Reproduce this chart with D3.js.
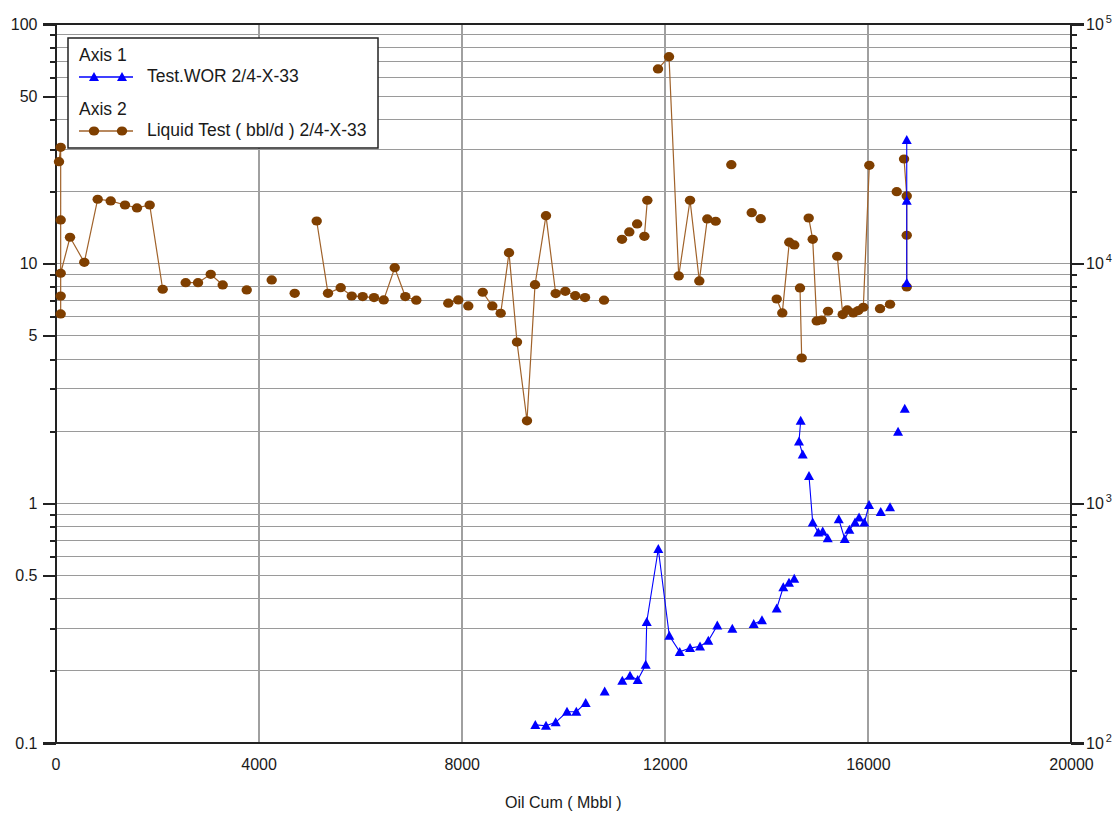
<!DOCTYPE html>
<html lang="en">
<head>
    <meta charset="UTF-8">
    <title>Test.WOR and Liquid Test vs Oil Cum</title>
    <style>
        body {
            margin: 0;
            background-color: #fff;
        }

        svg text {
            font-family: 'Liberation Sans', Arial, sans-serif;
            fill: #1a1a1a;
        }

        .grid line {
            stroke: #9a9a9a;
            stroke-width: 1px;
            shape-rendering: crispEdges;
        }

        .grid .vgrid {
            stroke: #a0a0a0;
            stroke-width: 2px;
        }

        .frame line {
            stroke: #222;
            stroke-width: 2px;
            shape-rendering: crispEdges;
        }

        .axis .tick line {
            stroke: #222;
            stroke-width: 2px;
            shape-rendering: crispEdges;
        }

        .axis text {
            font-size: 16px;
        }
    </style>
</head>
<body>
    <div id="chart"></div>

    <script src="https://d3js.org/d3.v7.min.js"></script>
    <script>
        // Axis 1: Test.WOR 2/4-X-33 (null = gap in the line)
        const worCum = [
            9450, 9660, 9851, 10074, 10257, 10442, null,
            10816, null,
            11163, 11315, 11466, 11624, 11644, 11872, 12089, 12294, 12497, 12694, 12857, 13034, null,
            13330, null,
            13751, 13914, null,
            14204, 14334, 14446, 14549, null,
            14676, 14643, 14716, null,
            14840, 14913, 15023, 15110, 15209, null,
            15426, 15544, 15635, 15747, 15826, 15930, 16023, null,
            16253, null,
            16436, null,
            16594, null,
            16726, null,
            16765, 16765, 16765
        ];
        const worValues = [
            0.119, 0.118, 0.122, 0.135, 0.135, 0.147, null,
            0.164, null,
            0.182, 0.191, 0.183, 0.212, 0.32, 0.645, 0.28, 0.24, 0.249, 0.253, 0.267, 0.309, null,
            0.30, null,
            0.314, 0.325, null,
            0.364, 0.447, 0.466, 0.484, null,
            2.21, 1.81, 1.6, null,
            1.3, 0.831, 0.755, 0.762, 0.715, null,
            0.859, 0.71, 0.775, 0.831, 0.872, 0.831, 0.985, null,
            0.921, null,
            0.963, null,
            1.99, null,
            2.48, null,
            8.31, 18.3, 32.8
        ];

        // Axis 2: Liquid Test ( bbl/d ) 2/4-X-33
        const liquidCum = [
            69, 102, 102, 102, 102, 102, 286, 567, 831, 1087, 1369, 1605, 1855, 2111, null,
            2564, 2807, 3057, 3293, null,
            3766, null,
            4258, null,
            4711, null,
            5144, 5367, 5617, 5834, 6050, 6273, 6464, 6681, 6889, 7106, null,
            7736, 7933, null,
            8130, null,
            8414, 8603, 8768, 8932, 9089, 9286, 9444, 9660, 9851, 10040, 10237, 10429, null,
            10803, null,
            11157, null,
            11301, null,
            11455, null,
            11598, 11656, null,
            11866, 12083, 12274, 12497, 12680, 12837, 13002, null,
            13310, null,
            13712, null,
            13889, null,
            14204, 14314, 14452, 14550, null,
            14663, 14696, null,
            14834, 14913, 14992, 15090, 15214, null,
            15397, 15504, 15594, 15713, 15811, 15910, 16028, null,
            16239, 16436, null,
            16568, null,
            16712, 16765, 16765, 16765
        ];
        const liquidValues = [
            26640, 30590, 15220, 6170, 7330, 9120, 12890, 10130, 18570, 18270, 17570, 17080, 17570, 7820, null,
            8330, 8330, 9030, 8150, null,
            7770, null,
            8550, null,
            7520, null,
            15070, 7520, 7940, 7330, 7290, 7220, 7060, 9620, 7290, 7040, null,
            6840, 7060, null,
            6660, null,
            7600, 6660, 6210, 11110, 4710, 2210, 8170, 15860, 7500, 7670, 7350, 7220, null,
            7040, null,
            12640, null,
            13560, null,
            14650, null,
            13010, 18390, null,
            64920, 73030, 8890, 18390, 8470, 15370, 15030, null,
            25880, null,
            16320, null,
            15400, null,
            7120, 6230, 12290, 11970, null,
            7920, 4040, null,
            15510, 12640, 5770, 5820, 6330, null,
            10740, 6130, 6410, 6230, 6370, 6580, 25730, null,
            6490, 6770, null,
            19970, null,
            27340, 19170, 13140, 7990
        ];

        const xTicks = [0, 4000, 8000, 12000, 16000, 20000];
        const leftLabels = [0.1, 0.5, 1, 5, 10, 50, 100];
        const rightLabels = [100, 1000, 10000, 100000];
        const legendItems = [
            { axis: "Axis 1", name: "Test.WOR 2/4-X-33", kind: "wor" },
            { axis: "Axis 2", name: "Liquid Test ( bbl/d ) 2/4-X-33", kind: "liquid" }
        ];

        const width = 1119;
        const height = 816;
        const plot = { left: 55.5, right: 1071, top: 24, bottom: 743 };

        const brown = "#7f3f00";
        const brownLine = "#a0622a";
        const blue = "#0000ff";

        const x = d3.scaleLinear().domain([0, 20000]).range([plot.left, plot.right]);
        const yL = d3.scaleLog().domain([0.1, 100]).range([plot.bottom, plot.top]);
        const yR = d3.scaleLog().domain([100, 100000]).range([plot.bottom, plot.top]);

        const svg = d3.select("#chart").append("svg")
            .attr("width", width)
            .attr("height", height);

        const isIn = (list, d) => list.some(v => Math.abs(v - d) < v * 1e-6);

        // grid
        const grid = svg.append("g").attr("class", "grid");
        grid.selectAll(".hgrid")
            .data(yL.ticks().filter(d => d > 0.1 + 1e-9 && d < 100 - 1e-9))
            .enter().append("line")
            .attr("class", "hgrid")
            .attr("x1", plot.left).attr("x2", plot.right)
            .attr("y1", d => yL(d)).attr("y2", d => yL(d));
        grid.selectAll(".vgrid")
            .data(xTicks.slice(1, -1))
            .enter().append("line")
            .attr("class", "vgrid")
            .attr("x1", d => x(d)).attr("x2", d => x(d))
            .attr("y1", plot.top).attr("y2", plot.bottom);

        // left axis
        const leftAxis = svg.append("g")
            .attr("class", "axis")
            .attr("transform", `translate(${plot.left},0)`)
            .call(d3.axisLeft(yL)
                .tickValues(yL.ticks())
                .tickSize(13)
                .tickSizeOuter(0)
                .tickPadding(5)
                .tickFormat(d => isIn(leftLabels, d) ? d3.format("~g")(d) : ""));
        leftAxis.select(".domain").remove();
        leftAxis.selectAll(".tick line")
            .attr("x2", d => isIn(leftLabels, d) ? -13 : -6);

        // right axis
        const rightAxis = svg.append("g")
            .attr("class", "axis")
            .attr("transform", `translate(${plot.right},0)`)
            .call(d3.axisRight(yR)
                .tickValues(yR.ticks())
                .tickSize(13)
                .tickSizeOuter(0)
                .tickPadding(3)
                .tickFormat(""));
        rightAxis.select(".domain").remove();
        rightAxis.selectAll(".tick line")
            .attr("x2", d => isIn(rightLabels, d) ? 13 : 6);
        rightAxis.selectAll(".tick text").each(function(d) {
            if (!isIn(rightLabels, d)) return;
            const t = d3.select(this).attr("x", 15);
            t.append("tspan").text("10");
            t.append("tspan")
                .attr("dy", "-0.62em")
                .attr("dx", "2")
                .style("font-size", "11px")
                .text(Math.round(Math.log10(d)));
        });

        // bottom axis labels
        const xAxis = svg.append("g")
            .attr("class", "axis")
            .attr("transform", `translate(0,${plot.bottom})`)
            .call(d3.axisBottom(x)
                .tickValues(xTicks)
                .tickSize(0)
                .tickPadding(16)
                .tickFormat(d3.format("d")));
        xAxis.select(".domain").remove();

        // frame
        const frame = svg.append("g").attr("class", "frame");
        frame.append("line").attr("x1", plot.left - 13).attr("x2", plot.right + 13).attr("y1", plot.top).attr("y2", plot.top);
        frame.append("line").attr("x1", plot.left - 13).attr("x2", plot.right + 13).attr("y1", plot.bottom).attr("y2", plot.bottom);
        frame.append("line").attr("x1", plot.left).attr("x2", plot.left).attr("y1", plot.top).attr("y2", plot.bottom);
        frame.append("line").attr("x1", plot.right).attr("x2", plot.right).attr("y1", plot.top).attr("y2", plot.bottom);

        svg.append("text")
            .attr("x", (plot.left + plot.right) / 2)
            .attr("y", 808)
            .attr("text-anchor", "middle")
            .style("font-size", "16px")
            .text("Oil Cum ( Mbbl )");

        // series
        const triangle = "M0,-5L5,4L-5,4Z";

        const liquid = liquidCum.map((c, i) => [c, liquidValues[i]]);
        const wor = worCum.map((c, i) => [c, worValues[i]]);

        const liquidLine = d3.line()
            .defined(d => d[1] != null)
            .x(d => x(d[0]))
            .y(d => yR(d[1]));
        const worLine = d3.line()
            .defined(d => d[1] != null)
            .x(d => x(d[0]))
            .y(d => yL(d[1]));

        svg.append("path")
            .datum(liquid)
            .attr("fill", "none")
            .attr("stroke", brownLine)
            .attr("stroke-width", 1.2)
            .attr("d", liquidLine);
        svg.selectAll(".liq")
            .data(liquid.filter(d => d[1] != null))
            .enter().append("ellipse")
            .attr("class", "liq")
            .attr("cx", d => x(d[0]))
            .attr("cy", d => yR(d[1]))
            .attr("rx", 5.2)
            .attr("ry", 4.6)
            .attr("fill", brown);

        svg.append("path")
            .datum(wor)
            .attr("fill", "none")
            .attr("stroke", blue)
            .attr("stroke-width", 1.1)
            .attr("d", worLine);
        svg.selectAll(".wor")
            .data(wor.filter(d => d[1] != null))
            .enter().append("path")
            .attr("class", "wor")
            .attr("d", triangle)
            .attr("transform", d => `translate(${x(d[0])},${yL(d[1])})`)
            .attr("fill", blue);

        // legend
        const legend = svg.append("g").attr("transform", "translate(68,38)");
        legend.append("rect")
            .attr("width", 310)
            .attr("height", 110)
            .attr("fill", "#fff")
            .attr("stroke", "#222")
            .attr("stroke-width", 1.5);

        legendItems.forEach((item, i) => {
            const g = legend.append("g").attr("transform", `translate(0,${i * 54})`);
            g.append("text")
                .attr("x", 11).attr("y", 23)
                .style("font-size", "17.5px")
                .text(item.axis);
            const color = item.kind === "wor" ? blue : brown;
            g.append("line")
                .attr("x1", 11).attr("x2", 65)
                .attr("y1", 39).attr("y2", 39)
                .attr("stroke", item.kind === "wor" ? blue : brownLine)
                .attr("stroke-width", 1.5);
            [26, 54].forEach(mx => {
                if (item.kind === "wor") {
                    g.append("path")
                        .attr("d", triangle)
                        .attr("transform", `translate(${mx},39)`)
                        .attr("fill", color);
                } else {
                    g.append("ellipse")
                        .attr("cx", mx).attr("cy", 39)
                        .attr("rx", 5.2)
                        .attr("ry", 4.6)
                        .attr("fill", color);
                }
            });
            g.append("text")
                .attr("x", 79).attr("y", 44)
                .style("font-size", "17.5px")
                .text(item.name);
        });
    </script>
</body>
</html>
